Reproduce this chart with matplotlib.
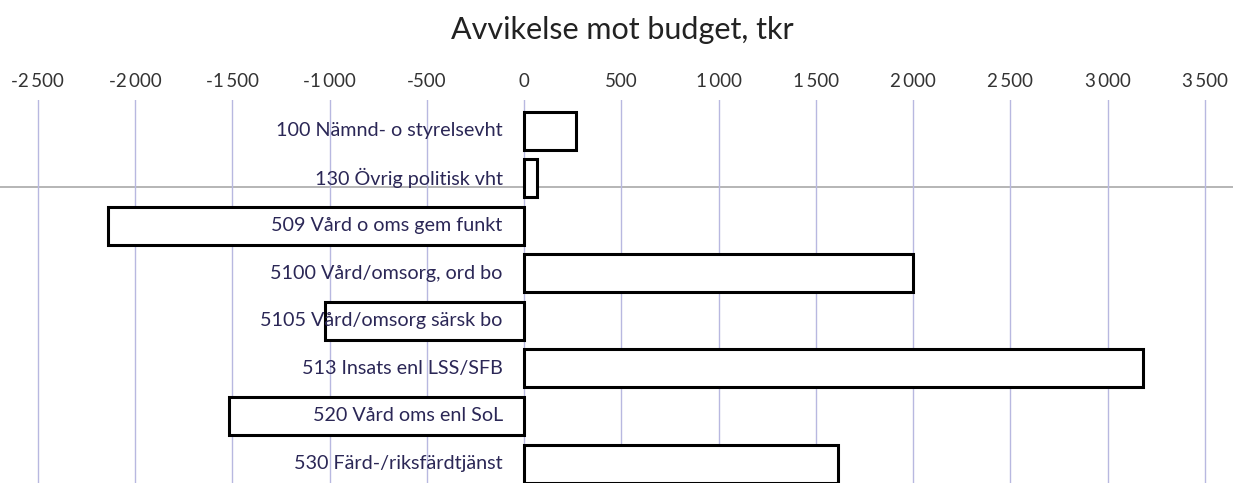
import matplotlib.pyplot as plt
from matplotlib.ticker import FuncFormatter

plt.rcParams['font.family'] = ['Lato', 'DejaVu Sans']

categories = ["100 Nämnd- o styrelsevht", "130 Övrig politisk vht",
              "509 Vård o oms gem funkt", "5100 Vård/omsorg, ord bo",
              "5105 Vård/omsorg särsk bo", "513 Insats enl LSS/SFB",
              "520 Vård oms enl SoL", "530 Färd-/riksfärdtjänst"]
values = [265, 65, -2140, 2000, -1025, 3180, -1515, 1615]
ticks = [-2500, -2000, -1500, -1000, -500, 0, 500, 1000, 1500, 2000, 2500, 3000, 3500]

fig = plt.figure(figsize=(12.33, 4.83), dpi=100)
ax = fig.add_axes([0, 0, 1, 0.793])

pos = list(range(len(categories)))
ax.barh(pos, values, height=0.8, color='white', edgecolor='black',
        linewidth=2.2, zorder=2)

for i, name in enumerate(categories):
    ax.text(-110, i, name, ha='right', va='center', fontsize=14.2,
            color='#2b2756', zorder=3)

# faint scan line from the source page
ax.axhline(1.18, color='#b0b0b0', lw=1.3, zorder=1)

ax.set_xlim(-2695, 3645)
ax.set_ylim(7.41, -0.65)
ax.set_xticks(ticks)
ax.xaxis.set_major_formatter(FuncFormatter(
    lambda v, p: f"{int(v):,}".replace(",", "\u2009")))
ax.xaxis.tick_top()
ax.tick_params(axis='x', length=0, pad=7, labelsize=13.5, labelcolor='#333333')
ax.set_yticks([])
ax.grid(axis='x', color='#b8b8e0', lw=1, zorder=0)
for s in ax.spines.values():
    s.set_visible(False)

fig.text(0.505, 0.938, "Avvikelse mot budget, tkr", ha='center', va='center',
         fontsize=22, color='#222222')

plt.savefig("out.png", dpi=100)
